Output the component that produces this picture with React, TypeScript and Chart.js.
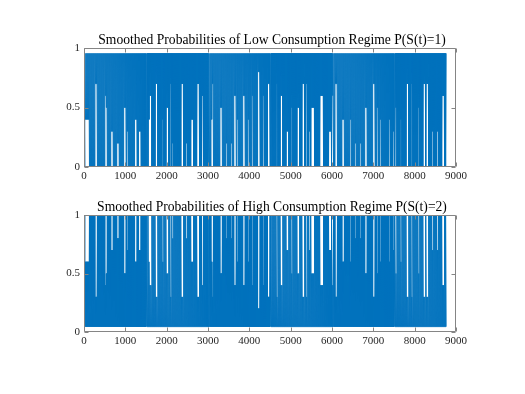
import React, { useEffect, useRef } from 'react';
import { Chart, registerables } from 'chart.js';

Chart.register(...registerables);

const HOURS_PER_DAY = 24;
const X_TICKS = [0, 1000, 2000, 3000, 4000, 5000, 6000, 7000, 8000, 9000];
const Y_TICKS = [0, 0.5, 1];
const LOW_TITLE = 'Smoothed Probabilities of Low Consumption Regime P(S(t)=1)';
const HIGH_TITLE = 'Smoothed Probabilities of High Consumption Regime P(S(t)=2)';

// Upper envelope of P(S(t)=1)
const LOW_DAILY_PEAK = 0.955;
// Daily minimum of P(S(t)=1), in tenths, read column by column (365 days)
const LOW_DAILY_MIN_TENTHS = [
  '0444400000', '0770000000', '0650000330', '0002200000', '5503000000',
  '0440033000', '0000046600', '0077000004', '0005500702', '0000000077',
  '0002000044', '0000770006', '0000000047', '0000000550', '0002000020',
  '0660400000', '6600040006', '0000088000', '6000077000', '0000700066',
  '0000330005', '0000055000', '7700700305', '5500000066', '6000000330',
  '6007700000', '4400000040', '0002000020', '0005500000', '0770050040',
  '0000000400', '0300500004', '0000077000', '7000000500', '0077077000',
  '0300003000', '06600',
].join('');

const lowMin = LOW_DAILY_MIN_TENTHS.split('').map((c) => Number(c) / 10);

function buildLow() {
  const pts: { x: number; y: number }[] = [];
  lowMin.forEach((m, d) => {
    pts.push({ x: d * HOURS_PER_DAY, y: LOW_DAILY_PEAK });
    pts.push({ x: d * HOURS_PER_DAY + HOURS_PER_DAY / 2, y: m });
  });
  pts.push({ x: lowMin.length * HOURS_PER_DAY, y: LOW_DAILY_PEAK });
  return pts;
}

const LOW_POINTS = buildLow();
const HIGH_POINTS = LOW_POINTS.map((p) => ({ x: p.x, y: 1 - p.y }));

const FONT = '"Liberation Serif", "Times New Roman", serif';

const framePlugin = {
  id: 'matlabFrame',
  afterDraw(chart: any, _args: any, opts: any) {
    const { ctx, chartArea: a, scales } = chart;
    ctx.save();
    ctx.strokeStyle = '#858585';
    ctx.lineWidth = 1;
    const L = Math.round(a.left) + 0.5;
    const R = Math.round(a.right) - 0.5;
    const T = Math.round(a.top) + 0.5;
    const B = Math.round(a.bottom) - 0.5;
    ctx.beginPath();
    ctx.rect(L, T, R - L, B - T);
    ctx.stroke();
    const tl = 4;
    ctx.beginPath();
    X_TICKS.forEach((v) => {
      const x = Math.round(scales.x.getPixelForValue(v)) + 0.5;
      ctx.moveTo(x, B);
      ctx.lineTo(x, B - tl);
      ctx.moveTo(x, T);
      ctx.lineTo(x, T + tl);
    });
    Y_TICKS.forEach((v) => {
      const y = Math.round(scales.y.getPixelForValue(v)) + 0.5;
      ctx.moveTo(L, y);
      ctx.lineTo(L + tl, y);
      ctx.moveTo(R, y);
      ctx.lineTo(R - tl, y);
    });
    ctx.stroke();
    ctx.fillStyle = '#000';
    ctx.font = `13.6px ${FONT}`;
    ctx.textAlign = 'center';
    ctx.textBaseline = 'alphabetic';
    ctx.fillText(opts.text, (a.left + a.right) / 2 + 2, a.top - 4);
    ctx.restore();
  },
};

function Panel({ points, title, padTop, xHeight }: { points: any[]; title: string; padTop: number; xHeight: number }) {
  const ref = useRef<HTMLCanvasElement>(null);
  useEffect(() => {
    if (!ref.current) return;
    const chart = new Chart(ref.current, {
      type: 'line',
      data: {
        datasets: [
          {
            data: points,
            borderColor: '#0072BD',
            borderWidth: 1,
            pointRadius: 0,
            fill: false,
            tension: 0,
          },
        ],
      },
      options: {
        animation: false,
        responsive: false,
        parsing: false,
        normalized: true,
        events: [],
        layout: { padding: { left: 0, right: 69, top: padTop, bottom: 0 } },
        plugins: {
          legend: { display: false },
          tooltip: { enabled: false },
          title: { display: false },
          matlabFrame: { text: title },
        } as any,
        scales: {
          x: {
            type: 'linear',
            min: 0,
            max: 9000,
            afterFit: (s: any) => {
              s.height = xHeight;
            },
            afterBuildTicks: (s: any) => {
              s.ticks = X_TICKS.map((v) => ({ value: v }));
            },
            grid: { display: false, drawTicks: false },
            border: { display: false },
            ticks: {
              padding: 3,
              maxRotation: 0,
              autoSkip: false,
              color: '#262626',
              font: { family: FONT, size: 11 },
              callback: (v: any) => String(v),
            },
          },
          y: {
            type: 'linear',
            min: 0,
            max: 1,
            afterFit: (s: any) => {
              s.width = 84;
            },
            afterBuildTicks: (s: any) => {
              s.ticks = Y_TICKS.map((v) => ({ value: v }));
            },
            grid: { display: false, drawTicks: false },
            border: { display: false },
            ticks: {
              padding: 4,
              color: '#262626',
              font: { family: FONT, size: 11 },
              callback: (v: any) => String(v),
            },
          },
        },
      },
      plugins: [framePlugin],
    });
    return () => chart.destroy();
  }, []);
  return <canvas ref={ref} width={525} height={197} style={{ display: 'block', width: 525, height: 197 }} />;
}

export default function App() {
  useEffect(() => {
    document.body.style.margin = '0';
    document.body.style.background = '#fff';
  }, []);
  return (
    <div style={{ width: 525, height: 394, background: '#fff' }}>
      <Panel points={LOW_POINTS} title={LOW_TITLE} padTop={48} xHeight={30} />
      <Panel points={HIGH_POINTS} title={HIGH_TITLE} padTop={18} xHeight={62} />
    </div>
  );
}
